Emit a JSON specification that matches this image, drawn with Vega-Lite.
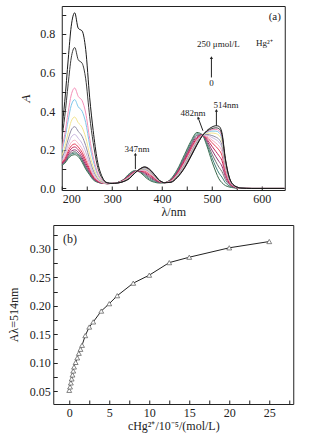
{
"$schema":"https://vega.github.io/schema/vega-lite/v6.json",
"padding":{"left":6,"top":5,"right":4,"bottom":4},
"background":"white",
"spacing":6,
"center":true,
"config":{
 "font":"Liberation Serif",
 "view":{"stroke":"#222","strokeWidth":1},
 "axis":{"grid":false,"domain":false,"tickSize":-4,"tickColor":"#222","tickWidth":1,"labelOverlap":false,"labelFont":"Liberation Serif","labelFontSize":12,"labelColor":"#222","titleFont":"Liberation Serif","titleFontSize":12,"titleFontWeight":"normal","titleColor":"#222"},
 "text":{"font":"Liberation Serif","color":"#222"}
},
"vconcat":[
{
 "width":223,"height":184,
 "encoding":{
   "x":{"field":"w","type":"quantitative","scale":{"domain":[199,646],"nice":false,"zero":false},
        "axis":{"values":[200,250,300,350,400,450,500,550,600],"labelExpr":"datum.value % 100 == 0 ? datum.label : ''","labelOverlap":false,"labelPadding":7,"title":"λ/nm","titlePadding":2}},
   "y":{"field":"a","type":"quantitative","scale":{"domain":[-0.008,0.945],"nice":false,"zero":false},
        "axis":{"values":[0,0.1,0.2,0.3,0.4,0.5,0.6,0.7,0.8,0.9],"labelExpr":"round(datum.value*10) % 2 == 0 ? format(datum.value,'.1f') : ''","labelOverlap":false,"labelPadding":11,"title":"A","titleFontStyle":"italic","titleFontSize":13,"titlePadding":7}}
 },
 "layer":[
 {
  "data":{"values":[
{"s":"c14","w":199,"a":0.12},{"s":"c14","w":205,"a":0.13},{"s":"c14","w":212,"a":0.155},{"s":"c14","w":218,"a":0.17},{"s":"c14","w":225,"a":0.175},{"s":"c14","w":232,"a":0.165},{"s":"c14","w":240,"a":0.135},{"s":"c14","w":247,"a":0.10},{"s":"c14","w":255,"a":0.07},{"s":"c14","w":262,"a":0.045},{"s":"c14","w":270,"a":0.033},{"s":"c14","w":280,"a":0.027},{"s":"c14","w":290,"a":0.025},{"s":"c14","w":300,"a":0.026},{"s":"c14","w":310,"a":0.030},{"s":"c14","w":322,"a":0.045},{"s":"c14","w":335,"a":0.078},{"s":"c14","w":345,"a":0.092},{"s":"c14","w":355,"a":0.085},{"s":"c14","w":365,"a":0.062},{"s":"c14","w":375,"a":0.042},{"s":"c14","w":385,"a":0.032},{"s":"c14","w":395,"a":0.028},{"s":"c14","w":405,"a":0.030},{"s":"c14","w":418,"a":0.050},{"s":"c14","w":430,"a":0.095},{"s":"c14","w":445,"a":0.175},{"s":"c14","w":458,"a":0.245},{"s":"c14","w":470,"a":0.290},{"s":"c14","w":480,"a":0.280},{"s":"c14","w":490,"a":0.220},{"s":"c14","w":500,"a":0.140},{"s":"c14","w":508,"a":0.085},{"s":"c14","w":514,"a":0.050},{"s":"c14","w":520,"a":0.030},{"s":"c14","w":527,"a":0.015},{"s":"c14","w":534,"a":0.008},{"s":"c14","w":545,"a":0.003},{"s":"c14","w":558,"a":0},{"s":"c14","w":580,"a":0},{"s":"c14","w":646,"a":0},
{"s":"c13","w":199,"a":0.122},{"s":"c13","w":205,"a":0.134},{"s":"c13","w":212,"a":0.161},{"s":"c13","w":218,"a":0.177},{"s":"c13","w":225,"a":0.183},{"s":"c13","w":232,"a":0.172},{"s":"c13","w":240,"a":0.142},{"s":"c13","w":247,"a":0.107},{"s":"c13","w":255,"a":0.074},{"s":"c13","w":262,"a":0.048},{"s":"c13","w":270,"a":0.034},{"s":"c13","w":280,"a":0.027},{"s":"c13","w":290,"a":0.025},{"s":"c13","w":300,"a":0.026},{"s":"c13","w":310,"a":0.030},{"s":"c13","w":322,"a":0.044},{"s":"c13","w":335,"a":0.075},{"s":"c13","w":345,"a":0.090},{"s":"c13","w":355,"a":0.087},{"s":"c13","w":365,"a":0.068},{"s":"c13","w":375,"a":0.048},{"s":"c13","w":385,"a":0.036},{"s":"c13","w":395,"a":0.030},{"s":"c13","w":405,"a":0.030},{"s":"c13","w":418,"a":0.048},{"s":"c13","w":430,"a":0.091},{"s":"c13","w":445,"a":0.167},{"s":"c13","w":458,"a":0.236},{"s":"c13","w":470,"a":0.283},{"s":"c13","w":480,"a":0.279},{"s":"c13","w":490,"a":0.229},{"s":"c13","w":500,"a":0.160},{"s":"c13","w":508,"a":0.111},{"s":"c13","w":514,"a":0.080},{"s":"c13","w":520,"a":0.059},{"s":"c13","w":527,"a":0.030},{"s":"c13","w":534,"a":0.014},{"s":"c13","w":545,"a":0.004},{"s":"c13","w":558,"a":0},{"s":"c13","w":580,"a":0},{"s":"c13","w":646,"a":0},
{"s":"c12","w":199,"a":0.124},{"s":"c12","w":205,"a":0.136},{"s":"c12","w":212,"a":0.165},{"s":"c12","w":218,"a":0.183},{"s":"c12","w":225,"a":0.190},{"s":"c12","w":232,"a":0.178},{"s":"c12","w":240,"a":0.149},{"s":"c12","w":247,"a":0.112},{"s":"c12","w":255,"a":0.078},{"s":"c12","w":262,"a":0.050},{"s":"c12","w":270,"a":0.035},{"s":"c12","w":280,"a":0.028},{"s":"c12","w":290,"a":0.025},{"s":"c12","w":300,"a":0.026},{"s":"c12","w":310,"a":0.030},{"s":"c12","w":322,"a":0.043},{"s":"c12","w":335,"a":0.072},{"s":"c12","w":345,"a":0.089},{"s":"c12","w":355,"a":0.088},{"s":"c12","w":365,"a":0.073},{"s":"c12","w":375,"a":0.055},{"s":"c12","w":385,"a":0.041},{"s":"c12","w":395,"a":0.031},{"s":"c12","w":405,"a":0.030},{"s":"c12","w":418,"a":0.046},{"s":"c12","w":430,"a":0.086},{"s":"c12","w":445,"a":0.160},{"s":"c12","w":458,"a":0.227},{"s":"c12","w":470,"a":0.276},{"s":"c12","w":480,"a":0.278},{"s":"c12","w":490,"a":0.238},{"s":"c12","w":500,"a":0.179},{"s":"c12","w":508,"a":0.138},{"s":"c12","w":514,"a":0.110},{"s":"c12","w":520,"a":0.088},{"s":"c12","w":527,"a":0.046},{"s":"c12","w":534,"a":0.021},{"s":"c12","w":545,"a":0.006},{"s":"c12","w":558,"a":0},{"s":"c12","w":580,"a":0},{"s":"c12","w":646,"a":0},
{"s":"c11","w":199,"a":0.126},{"s":"c11","w":205,"a":0.141},{"s":"c11","w":212,"a":0.173},{"s":"c11","w":218,"a":0.193},{"s":"c11","w":225,"a":0.200},{"s":"c11","w":232,"a":0.188},{"s":"c11","w":240,"a":0.158},{"s":"c11","w":247,"a":0.121},{"s":"c11","w":255,"a":0.084},{"s":"c11","w":262,"a":0.054},{"s":"c11","w":270,"a":0.037},{"s":"c11","w":280,"a":0.028},{"s":"c11","w":290,"a":0.025},{"s":"c11","w":300,"a":0.026},{"s":"c11","w":310,"a":0.029},{"s":"c11","w":322,"a":0.042},{"s":"c11","w":335,"a":0.069},{"s":"c11","w":345,"a":0.087},{"s":"c11","w":355,"a":0.090},{"s":"c11","w":365,"a":0.079},{"s":"c11","w":375,"a":0.061},{"s":"c11","w":385,"a":0.045},{"s":"c11","w":395,"a":0.033},{"s":"c11","w":405,"a":0.030},{"s":"c11","w":418,"a":0.044},{"s":"c11","w":430,"a":0.082},{"s":"c11","w":445,"a":0.152},{"s":"c11","w":458,"a":0.219},{"s":"c11","w":470,"a":0.269},{"s":"c11","w":480,"a":0.277},{"s":"c11","w":490,"a":0.247},{"s":"c11","w":500,"a":0.199},{"s":"c11","w":508,"a":0.164},{"s":"c11","w":514,"a":0.140},{"s":"c11","w":520,"a":0.116},{"s":"c11","w":527,"a":0.061},{"s":"c11","w":534,"a":0.027},{"s":"c11","w":545,"a":0.007},{"s":"c11","w":558,"a":0.001},{"s":"c11","w":580,"a":0},{"s":"c11","w":646,"a":0},
{"s":"c10","w":199,"a":0.130},{"s":"c10","w":205,"a":0.147},{"s":"c10","w":212,"a":0.183},{"s":"c10","w":218,"a":0.206},{"s":"c10","w":225,"a":0.215},{"s":"c10","w":232,"a":0.201},{"s":"c10","w":240,"a":0.172},{"s":"c10","w":247,"a":0.133},{"s":"c10","w":255,"a":0.092},{"s":"c10","w":262,"a":0.059},{"s":"c10","w":270,"a":0.039},{"s":"c10","w":280,"a":0.029},{"s":"c10","w":290,"a":0.025},{"s":"c10","w":300,"a":0.026},{"s":"c10","w":310,"a":0.029},{"s":"c10","w":322,"a":0.041},{"s":"c10","w":335,"a":0.067},{"s":"c10","w":345,"a":0.086},{"s":"c10","w":355,"a":0.092},{"s":"c10","w":365,"a":0.084},{"s":"c10","w":375,"a":0.068},{"s":"c10","w":385,"a":0.050},{"s":"c10","w":395,"a":0.034},{"s":"c10","w":405,"a":0.030},{"s":"c10","w":418,"a":0.042},{"s":"c10","w":430,"a":0.077},{"s":"c10","w":445,"a":0.144},{"s":"c10","w":458,"a":0.210},{"s":"c10","w":470,"a":0.261},{"s":"c10","w":480,"a":0.276},{"s":"c10","w":490,"a":0.255},{"s":"c10","w":500,"a":0.219},{"s":"c10","w":508,"a":0.191},{"s":"c10","w":514,"a":0.170},{"s":"c10","w":520,"a":0.145},{"s":"c10","w":527,"a":0.077},{"s":"c10","w":534,"a":0.033},{"s":"c10","w":545,"a":0.008},{"s":"c10","w":558,"a":0.001},{"s":"c10","w":580,"a":0},{"s":"c10","w":646,"a":0},
{"s":"c09","w":199,"a":0.134},{"s":"c09","w":205,"a":0.154},{"s":"c09","w":212,"a":0.194},{"s":"c09","w":218,"a":0.220},{"s":"c09","w":225,"a":0.230},{"s":"c09","w":232,"a":0.215},{"s":"c09","w":240,"a":0.186},{"s":"c09","w":247,"a":0.147},{"s":"c09","w":255,"a":0.100},{"s":"c09","w":262,"a":0.064},{"s":"c09","w":270,"a":0.042},{"s":"c09","w":280,"a":0.029},{"s":"c09","w":290,"a":0.025},{"s":"c09","w":300,"a":0.026},{"s":"c09","w":310,"a":0.029},{"s":"c09","w":322,"a":0.039},{"s":"c09","w":335,"a":0.064},{"s":"c09","w":345,"a":0.084},{"s":"c09","w":355,"a":0.093},{"s":"c09","w":365,"a":0.090},{"s":"c09","w":375,"a":0.074},{"s":"c09","w":385,"a":0.054},{"s":"c09","w":395,"a":0.036},{"s":"c09","w":405,"a":0.030},{"s":"c09","w":418,"a":0.040},{"s":"c09","w":430,"a":0.073},{"s":"c09","w":445,"a":0.136},{"s":"c09","w":458,"a":0.201},{"s":"c09","w":470,"a":0.254},{"s":"c09","w":480,"a":0.274},{"s":"c09","w":490,"a":0.264},{"s":"c09","w":500,"a":0.238},{"s":"c09","w":508,"a":0.217},{"s":"c09","w":514,"a":0.200},{"s":"c09","w":520,"a":0.173},{"s":"c09","w":527,"a":0.092},{"s":"c09","w":534,"a":0.039},{"s":"c09","w":545,"a":0.010},{"s":"c09","w":558,"a":0.001},{"s":"c09","w":580,"a":0},{"s":"c09","w":646,"a":0},
{"s":"c08","w":199,"a":0.138},{"s":"c08","w":205,"a":0.163},{"s":"c08","w":212,"a":0.208},{"s":"c08","w":218,"a":0.238},{"s":"c08","w":225,"a":0.250},{"s":"c08","w":232,"a":0.233},{"s":"c08","w":240,"a":0.204},{"s":"c08","w":247,"a":0.163},{"s":"c08","w":255,"a":0.111},{"s":"c08","w":262,"a":0.071},{"s":"c08","w":270,"a":0.045},{"s":"c08","w":280,"a":0.030},{"s":"c08","w":290,"a":0.025},{"s":"c08","w":300,"a":0.026},{"s":"c08","w":310,"a":0.029},{"s":"c08","w":322,"a":0.039},{"s":"c08","w":335,"a":0.062},{"s":"c08","w":345,"a":0.083},{"s":"c08","w":355,"a":0.094},{"s":"c08","w":365,"a":0.093},{"s":"c08","w":375,"a":0.078},{"s":"c08","w":385,"a":0.057},{"s":"c08","w":395,"a":0.037},{"s":"c08","w":405,"a":0.030},{"s":"c08","w":418,"a":0.039},{"s":"c08","w":430,"a":0.070},{"s":"c08","w":445,"a":0.131},{"s":"c08","w":458,"a":0.195},{"s":"c08","w":470,"a":0.249},{"s":"c08","w":480,"a":0.274},{"s":"c08","w":490,"a":0.270},{"s":"c08","w":500,"a":0.251},{"s":"c08","w":508,"a":0.235},{"s":"c08","w":514,"a":0.220},{"s":"c08","w":520,"a":0.193},{"s":"c08","w":527,"a":0.103},{"s":"c08","w":534,"a":0.044},{"s":"c08","w":545,"a":0.011},{"s":"c08","w":558,"a":0.001},{"s":"c08","w":580,"a":0},{"s":"c08","w":646,"a":0},
{"s":"c07","w":199,"a":0.146},{"s":"c07","w":205,"a":0.176},{"s":"c07","w":212,"a":0.229},{"s":"c07","w":218,"a":0.266},{"s":"c07","w":225,"a":0.280},{"s":"c07","w":232,"a":0.260},{"s":"c07","w":240,"a":0.232},{"s":"c07","w":247,"a":0.189},{"s":"c07","w":255,"a":0.127},{"s":"c07","w":262,"a":0.081},{"s":"c07","w":270,"a":0.050},{"s":"c07","w":280,"a":0.032},{"s":"c07","w":290,"a":0.025},{"s":"c07","w":300,"a":0.026},{"s":"c07","w":310,"a":0.029},{"s":"c07","w":322,"a":0.038},{"s":"c07","w":335,"a":0.060},{"s":"c07","w":345,"a":0.082},{"s":"c07","w":355,"a":0.095},{"s":"c07","w":365,"a":0.097},{"s":"c07","w":375,"a":0.083},{"s":"c07","w":385,"a":0.060},{"s":"c07","w":395,"a":0.038},{"s":"c07","w":405,"a":0.030},{"s":"c07","w":418,"a":0.037},{"s":"c07","w":430,"a":0.067},{"s":"c07","w":445,"a":0.126},{"s":"c07","w":458,"a":0.189},{"s":"c07","w":470,"a":0.245},{"s":"c07","w":480,"a":0.273},{"s":"c07","w":490,"a":0.276},{"s":"c07","w":500,"a":0.264},{"s":"c07","w":508,"a":0.253},{"s":"c07","w":514,"a":0.240},{"s":"c07","w":520,"a":0.212},{"s":"c07","w":527,"a":0.113},{"s":"c07","w":534,"a":0.048},{"s":"c07","w":545,"a":0.011},{"s":"c07","w":558,"a":0.001},{"s":"c07","w":580,"a":0},{"s":"c07","w":646,"a":0},
{"s":"c06","w":199,"a":0.155},{"s":"c06","w":205,"a":0.193},{"s":"c06","w":212,"a":0.256},{"s":"c06","w":218,"a":0.302},{"s":"c06","w":225,"a":0.320},{"s":"c06","w":232,"a":0.296},{"s":"c06","w":240,"a":0.269},{"s":"c06","w":247,"a":0.222},{"s":"c06","w":255,"a":0.149},{"s":"c06","w":262,"a":0.095},{"s":"c06","w":270,"a":0.056},{"s":"c06","w":280,"a":0.034},{"s":"c06","w":290,"a":0.026},{"s":"c06","w":300,"a":0.026},{"s":"c06","w":310,"a":0.028},{"s":"c06","w":322,"a":0.037},{"s":"c06","w":335,"a":0.058},{"s":"c06","w":345,"a":0.081},{"s":"c06","w":355,"a":0.096},{"s":"c06","w":365,"a":0.100},{"s":"c06","w":375,"a":0.086},{"s":"c06","w":385,"a":0.062},{"s":"c06","w":395,"a":0.039},{"s":"c06","w":405,"a":0.030},{"s":"c06","w":418,"a":0.036},{"s":"c06","w":430,"a":0.065},{"s":"c06","w":445,"a":0.122},{"s":"c06","w":458,"a":0.185},{"s":"c06","w":470,"a":0.241},{"s":"c06","w":480,"a":0.272},{"s":"c06","w":490,"a":0.280},{"s":"c06","w":500,"a":0.274},{"s":"c06","w":508,"a":0.266},{"s":"c06","w":514,"a":0.255},{"s":"c06","w":520,"a":0.226},{"s":"c06","w":527,"a":0.121},{"s":"c06","w":534,"a":0.051},{"s":"c06","w":545,"a":0.012},{"s":"c06","w":558,"a":0.002},{"s":"c06","w":580,"a":0},{"s":"c06","w":646,"a":0},
{"s":"c05","w":199,"a":0.168},{"s":"c05","w":205,"a":0.215},{"s":"c05","w":212,"a":0.291},{"s":"c05","w":218,"a":0.348},{"s":"c05","w":225,"a":0.370},{"s":"c05","w":232,"a":0.341},{"s":"c05","w":240,"a":0.315},{"s":"c05","w":247,"a":0.264},{"s":"c05","w":255,"a":0.176},{"s":"c05","w":262,"a":0.113},{"s":"c05","w":270,"a":0.064},{"s":"c05","w":280,"a":0.036},{"s":"c05","w":290,"a":0.026},{"s":"c05","w":300,"a":0.026},{"s":"c05","w":310,"a":0.028},{"s":"c05","w":322,"a":0.037},{"s":"c05","w":335,"a":0.057},{"s":"c05","w":345,"a":0.080},{"s":"c05","w":355,"a":0.097},{"s":"c05","w":365,"a":0.103},{"s":"c05","w":375,"a":0.090},{"s":"c05","w":385,"a":0.065},{"s":"c05","w":395,"a":0.040},{"s":"c05","w":405,"a":0.030},{"s":"c05","w":418,"a":0.035},{"s":"c05","w":430,"a":0.062},{"s":"c05","w":445,"a":0.117},{"s":"c05","w":458,"a":0.179},{"s":"c05","w":470,"a":0.236},{"s":"c05","w":480,"a":0.272},{"s":"c05","w":490,"a":0.286},{"s":"c05","w":500,"a":0.287},{"s":"c05","w":508,"a":0.284},{"s":"c05","w":514,"a":0.275},{"s":"c05","w":520,"a":0.245},{"s":"c05","w":527,"a":0.131},{"s":"c05","w":534,"a":0.055},{"s":"c05","w":545,"a":0.013},{"s":"c05","w":558,"a":0.002},{"s":"c05","w":580,"a":0},{"s":"c05","w":646,"a":0},
{"s":"c04","w":199,"a":0.190},{"s":"c04","w":205,"a":0.254},{"s":"c04","w":212,"a":0.355},{"s":"c04","w":218,"a":0.430},{"s":"c04","w":225,"a":0.460},{"s":"c04","w":232,"a":0.423},{"s":"c04","w":240,"a":0.399},{"s":"c04","w":247,"a":0.341},{"s":"c04","w":255,"a":0.225},{"s":"c04","w":262,"a":0.144},{"s":"c04","w":270,"a":0.078},{"s":"c04","w":280,"a":0.040},{"s":"c04","w":290,"a":0.027},{"s":"c04","w":300,"a":0.026},{"s":"c04","w":310,"a":0.028},{"s":"c04","w":322,"a":0.036},{"s":"c04","w":335,"a":0.055},{"s":"c04","w":345,"a":0.080},{"s":"c04","w":355,"a":0.098},{"s":"c04","w":365,"a":0.106},{"s":"c04","w":375,"a":0.093},{"s":"c04","w":385,"a":0.067},{"s":"c04","w":395,"a":0.040},{"s":"c04","w":405,"a":0.030},{"s":"c04","w":418,"a":0.034},{"s":"c04","w":430,"a":0.060},{"s":"c04","w":445,"a":0.113},{"s":"c04","w":458,"a":0.174},{"s":"c04","w":470,"a":0.233},{"s":"c04","w":480,"a":0.271},{"s":"c04","w":490,"a":0.291},{"s":"c04","w":500,"a":0.297},{"s":"c04","w":508,"a":0.297},{"s":"c04","w":514,"a":0.290},{"s":"c04","w":520,"a":0.259},{"s":"c04","w":527,"a":0.139},{"s":"c04","w":534,"a":0.058},{"s":"c04","w":545,"a":0.014},{"s":"c04","w":558,"a":0.002},{"s":"c04","w":580,"a":0},{"s":"c04","w":646,"a":0},
{"s":"c03","w":199,"a":0.204},{"s":"c03","w":205,"a":0.280},{"s":"c03","w":212,"a":0.397},{"s":"c03","w":218,"a":0.484},{"s":"c03","w":225,"a":0.520},{"s":"c03","w":232,"a":0.477},{"s":"c03","w":240,"a":0.454},{"s":"c03","w":247,"a":0.391},{"s":"c03","w":255,"a":0.258},{"s":"c03","w":262,"a":0.165},{"s":"c03","w":270,"a":0.088},{"s":"c03","w":280,"a":0.042},{"s":"c03","w":290,"a":0.027},{"s":"c03","w":300,"a":0.026},{"s":"c03","w":310,"a":0.028},{"s":"c03","w":322,"a":0.036},{"s":"c03","w":335,"a":0.054},{"s":"c03","w":345,"a":0.079},{"s":"c03","w":355,"a":0.099},{"s":"c03","w":365,"a":0.108},{"s":"c03","w":375,"a":0.095},{"s":"c03","w":385,"a":0.069},{"s":"c03","w":395,"a":0.041},{"s":"c03","w":405,"a":0.030},{"s":"c03","w":418,"a":0.034},{"s":"c03","w":430,"a":0.058},{"s":"c03","w":445,"a":0.111},{"s":"c03","w":458,"a":0.172},{"s":"c03","w":470,"a":0.230},{"s":"c03","w":480,"a":0.271},{"s":"c03","w":490,"a":0.294},{"s":"c03","w":500,"a":0.304},{"s":"c03","w":508,"a":0.306},{"s":"c03","w":514,"a":0.300},{"s":"c03","w":520,"a":0.269},{"s":"c03","w":527,"a":0.144},{"s":"c03","w":534,"a":0.060},{"s":"c03","w":545,"a":0.014},{"s":"c03","w":558,"a":0.002},{"s":"c03","w":580,"a":0},{"s":"c03","w":646,"a":0},
{"s":"c02","w":199,"a":0.256},{"s":"c02","w":205,"a":0.372},{"s":"c02","w":212,"a":0.544},{"s":"c02","w":218,"a":0.676},{"s":"c02","w":225,"a":0.730},{"s":"c02","w":232,"a":0.667},{"s":"c02","w":240,"a":0.648},{"s":"c02","w":247,"a":0.568},{"s":"c02","w":255,"a":0.372},{"s":"c02","w":262,"a":0.238},{"s":"c02","w":270,"a":0.121},{"s":"c02","w":280,"a":0.052},{"s":"c02","w":290,"a":0.029},{"s":"c02","w":300,"a":0.026},{"s":"c02","w":310,"a":0.028},{"s":"c02","w":322,"a":0.035},{"s":"c02","w":335,"a":0.053},{"s":"c02","w":345,"a":0.079},{"s":"c02","w":355,"a":0.099},{"s":"c02","w":365,"a":0.110},{"s":"c02","w":375,"a":0.097},{"s":"c02","w":385,"a":0.070},{"s":"c02","w":395,"a":0.041},{"s":"c02","w":405,"a":0.030},{"s":"c02","w":418,"a":0.033},{"s":"c02","w":430,"a":0.057},{"s":"c02","w":445,"a":0.108},{"s":"c02","w":458,"a":0.169},{"s":"c02","w":470,"a":0.228},{"s":"c02","w":480,"a":0.270},{"s":"c02","w":490,"a":0.297},{"s":"c02","w":500,"a":0.310},{"s":"c02","w":508,"a":0.314},{"s":"c02","w":514,"a":0.310},{"s":"c02","w":520,"a":0.279},{"s":"c02","w":527,"a":0.149},{"s":"c02","w":534,"a":0.063},{"s":"c02","w":545,"a":0.014},{"s":"c02","w":558,"a":0.002},{"s":"c02","w":580,"a":0},{"s":"c02","w":646,"a":0},
{"s":"c01","w":199,"a":0.30},{"s":"c01","w":205,"a":0.45},{"s":"c01","w":212,"a":0.67},{"s":"c01","w":218,"a":0.84},{"s":"c01","w":225,"a":0.91},{"s":"c01","w":232,"a":0.83},{"s":"c01","w":240,"a":0.815},{"s":"c01","w":247,"a":0.72},{"s":"c01","w":255,"a":0.47},{"s":"c01","w":262,"a":0.30},{"s":"c01","w":270,"a":0.15},{"s":"c01","w":280,"a":0.06},{"s":"c01","w":290,"a":0.03},{"s":"c01","w":300,"a":0.026},{"s":"c01","w":310,"a":0.028},{"s":"c01","w":322,"a":0.035},{"s":"c01","w":335,"a":0.052},{"s":"c01","w":345,"a":0.078},{"s":"c01","w":355,"a":0.100},{"s":"c01","w":365,"a":0.112},{"s":"c01","w":375,"a":0.100},{"s":"c01","w":385,"a":0.072},{"s":"c01","w":395,"a":0.042},{"s":"c01","w":405,"a":0.030},{"s":"c01","w":418,"a":0.032},{"s":"c01","w":430,"a":0.055},{"s":"c01","w":445,"a":0.105},{"s":"c01","w":458,"a":0.165},{"s":"c01","w":470,"a":0.225},{"s":"c01","w":480,"a":0.270},{"s":"c01","w":490,"a":0.300},{"s":"c01","w":500,"a":0.318},{"s":"c01","w":508,"a":0.325},{"s":"c01","w":514,"a":0.322},{"s":"c01","w":520,"a":0.290},{"s":"c01","w":527,"a":0.155},{"s":"c01","w":534,"a":0.065},{"s":"c01","w":545,"a":0.015},{"s":"c01","w":558,"a":0.002},{"s":"c01","w":580,"a":0},{"s":"c01","w":646,"a":0}
  ]},
  "mark":{"type":"line","strokeWidth":1,"interpolate":"monotone","clip":true},
  "encoding":{
   "color":{"field":"s","type":"nominal","legend":null,
        "scale":{"domain":["c14","c13","c12","c11","c10","c09","c08","c07","c06","c05","c04","c03","c02","c01"],
                 "range":["#3b6a4c","#3f8078","#707070","#8e3571","#c21f58","#e23a55","#f3adc0","#c9b6df","#8f8aa3","#f2e38e","#7cc6ea","#f48fb8","#3a3a3a","#1a1a1a"]}}
  }
 },
 {
  "data":{"values":[
   {"w":509,"a":0.325,"w2":509,"a2":0.402},
   {"w":346.6,"a":0.10,"w2":346.6,"a2":0.175},
   {"w":499,"a":0.575,"w2":499,"a2":0.675},
   {"w":482,"a":0.299,"w2":473,"a2":0.362}
  ]},
  "mark":{"type":"rule","color":"#222","strokeWidth":1},
  "encoding":{"x2":{"field":"w2"},"y2":{"field":"a2"}}
 },
 {
  "data":{"values":[{"w":509,"a":0.405},{"w":346.6,"a":0.178},{"w":499,"a":0.678}]},
  "mark":{"type":"point","shape":"triangle-up","filled":true,"color":"#222","size":10,"opacity":1}
 },
 {
  "data":{"values":[{"w":472.5,"a":0.366}]},
  "mark":{"type":"point","shape":"triangle-up","filled":true,"color":"#222","size":10,"opacity":1,"angle":-20}
 },
 {
  "data":{"values":[
   {"t":"250 μmol/L","w":513,"a":0.748},
   {"t":"Hg²⁺","w":605,"a":0.752},
   {"t":"0","w":499,"a":0.545},
   {"t":"514nm","w":528,"a":0.432},
   {"t":"482nm","w":462,"a":0.389},
   {"t":"347nm","w":350,"a":0.205}
  ]},
  "mark":{"type":"text","fontSize":9,"baseline":"middle","align":"center"},
  "encoding":{"text":{"field":"t"}}
 },
 {
  "data":{"values":[{"t":"(a)","w":626,"a":0.888}]},
  "mark":{"type":"text","fontSize":11,"baseline":"middle","align":"center"},
  "encoding":{"text":{"field":"t"}}
 }
 ]
},
{
 "width":240,"height":179,
 "encoding":{
   "x":{"field":"c","type":"quantitative","scale":{"domain":[-2,28],"nice":false,"zero":false},
        "axis":{"values":[0,2.5,5,7.5,10,12.5,15,17.5,20,22.5,25,27.5],"labelExpr":"datum.value % 5 == 0 ? datum.label : ''","labelOverlap":false,"labelPadding":7,"title":"cHg²⁺/10⁻⁵/(mol/L)","titlePadding":2}},
   "y":{"field":"v","type":"quantitative","scale":{"domain":[0.028,0.342],"nice":false,"zero":false},
        "axis":{"values":[0.05,0.075,0.1,0.125,0.15,0.175,0.2,0.225,0.25,0.275,0.3,0.325],"labelExpr":"indexof(['0.05','0.10','0.15','0.20','0.25','0.30'], format(datum.value,'.2f')) >= 0 ? format(datum.value,'.2f') : ''","labelOverlap":false,"labelBound":false,"labelFlush":false,"labelPadding":7,"title":"Aλ=514nm","titlePadding":9}}
 },
 "layer":[
 {
  "data":{"values":[
   {"c":0,"v":0.052},{"c":0.1,"v":0.058},{"c":0.2,"v":0.065},{"c":0.3,"v":0.072},{"c":0.4,"v":0.079},{"c":0.5,"v":0.086},{"c":0.6,"v":0.093},{"c":0.8,"v":0.101},{"c":1.0,"v":0.109},{"c":1.2,"v":0.117},{"c":1.4,"v":0.124},{"c":1.6,"v":0.131},{"c":2.0,"v":0.148},{"c":2.5,"v":0.163},{"c":3.0,"v":0.172},{"c":4.0,"v":0.191},{"c":5.0,"v":0.204},{"c":6.0,"v":0.218},{"c":8.0,"v":0.240},{"c":10,"v":0.254},{"c":12.5,"v":0.276},{"c":15,"v":0.2855},{"c":20,"v":0.302},{"c":25,"v":0.313}
  ]},
  "layer":[
   {"mark":{"type":"line","color":"#222","strokeWidth":1}},
   {"mark":{"type":"point","shape":"triangle-up","filled":true,"fill":"white","stroke":"#666","strokeWidth":0.8,"size":24,"opacity":1}}
  ]
 },
 {
  "data":{"values":[{"t":"(b)","c":0.1,"v":0.318}]},
  "mark":{"type":"text","fontSize":12,"baseline":"middle","align":"center"},
  "encoding":{"text":{"field":"t"}}
 }
 ]
}
]
}
